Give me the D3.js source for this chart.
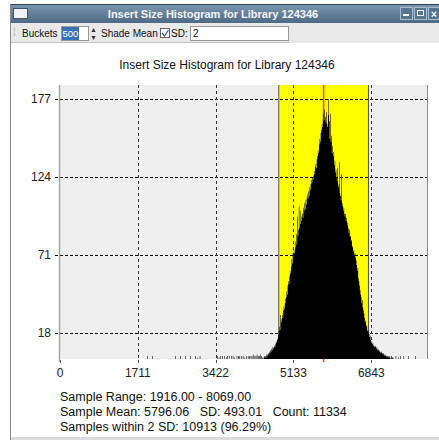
<!DOCTYPE html>
<html>
<head>
<meta charset="utf-8">
<script src="https://cdn.jsdelivr.net/npm/d3@7"></script>
<style>
  body { margin: 0; background: #fff; }
  svg { display: block; }
  text { font-family: "Liberation Sans", Arial, sans-serif; }
</style>
</head>
<body>
<div id="chart"></div>
<script>
const windowTitle = 'Insert Size Histogram for Library 124346';
const chartTitle = 'Insert Size Histogram for Library 124346';
const bucketCount = 500;
const sampleRange = [1916, 8069];
const sampleMean = 5796.06;
const sampleSD = 493.01;
const shadeSD = 2;
const xTicks = [0, 1711, 3422, 5133, 6843];
const yTicks = [18, 71, 124, 177];
const yMax = 186.6;

// sparse outlier buckets: [bucket index, count]
const tailBuckets = [
  [0, 2], [9, 2], [50, 2], [59, 2], [68, 2], [77, 2], [86, 2], [89, 1], [94, 2],
  [125, 2], [128, 1], [131, 2], [134, 2], [138, 2], [141, 1], [143, 2], [146, 2],
  [150, 2], [153, 2], [156, 1], [160, 2], [163, 2], [165, 2], [168, 2], [171, 2],
  [174, 1], [177, 2], [180, 2], [182, 2], [185, 2], [187, 2], [190, 3], [192, 2],
  [194, 2], [196, 3], [198, 2], [200, 2], [202, 3], [204, 2],
  [444, 2], [448, 1], [452, 2], [458, 2], [466, 2], [479, 2]
];

// dense part of the histogram, starting at bucket coreStart
const coreStart = 206;
const coreCounts = [
  1, 0, 1, 2, 1, 2, 1,
  3, 2, 3, 4, 3, 5, 4,
  6, 5, 7, 6, 8, 7, 8,
  9, 8, 10, 12, 11, 13, 14,
  16, 19, 22, 20, 30, 25, 27,
  30, 28, 33, 36, 34, 38, 41,
  42, 46, 44, 50, 53, 51, 56,
  60, 58, 63, 68, 65, 72, 70,
  74, 72, 80, 76, 85, 78, 97,
  84, 88, 104, 89, 92, 101, 94,
  97, 99, 96, 103, 101, 106, 102,
  108, 105, 110, 112, 109, 114, 111,
  117, 115, 119, 122, 120, 124, 122,
  125, 128, 126, 131, 133, 130, 136,
  138, 142, 140, 146, 150, 148, 154,
  156, 160, 158, 167, 162, 170, 163,
  165, 161, 168, 160, 158, 166, 177,
  162, 150, 167, 148, 152, 140, 145,
  138, 141, 132, 135, 127, 129, 124,
  121, 130, 117, 119, 134, 113, 111,
  108, 126, 104, 106, 101, 103, 99,
  97, 99, 94, 96, 91, 93, 89,
  86, 88, 83, 84, 80, 81, 77,
  76, 73, 74, 71, 72, 69, 67,
  64, 60, 62, 55, 53, 50, 47,
  44, 42, 38, 40, 35, 33, 31,
  28, 25, 26, 22, 23, 19, 20,
  18, 17, 15, 16, 13, 12, 11,
  10, 11, 9, 9, 8, 9, 8,
  7, 8, 6, 7, 6, 6, 5,
  5, 4, 5, 4, 4, 3, 4,
  3, 2, 3, 2, 2, 1, 2,
  2, 1, 2, 1, 0, 1, 2, 0, 1, 1, 0
];

const statLines = [
  'Sample Range: 1916.00 - 8069.00',
  'Sample Mean: 5796.06   SD: 493.01   Count: 11334',
  'Samples within 2 SD: 10913 (96.29%)'
];

const W = 439, H = 440;
const plot = { left: 60, right: 427, top: 85, bottom: 359 };

const svg = d3.select('#chart').append('svg')
  .attr('width', W)
  .attr('height', H);

// ---- window chrome ----
const defs = svg.append('defs');
const grad = defs.append('linearGradient')
  .attr('id', 'titlebar').attr('x1', 0).attr('y1', 0).attr('x2', 0).attr('y2', 1);
grad.append('stop').attr('offset', '0%').attr('stop-color', '#7d98b0');
grad.append('stop').attr('offset', '100%').attr('stop-color', '#4c6a85');

svg.append('rect').attr('x', 0).attr('y', 0).attr('width', W).attr('height', H).attr('fill', '#fff');
svg.append('rect').attr('x', 10).attr('y', 4).attr('width', W - 10).attr('height', 19)
  .attr('fill', 'url(#titlebar)');
svg.append('line').attr('x1', 10).attr('x2', W).attr('y1', 4.5).attr('y2', 4.5)
  .attr('stroke', '#2f3f4f');
svg.append('line').attr('x1', 10.5).attr('x2', 10.5).attr('y1', 4).attr('y2', H)
  .attr('stroke', '#8a8a8a');
// window icon
svg.append('rect').attr('x', 13.5).attr('y', 8.5).attr('width', 14).attr('height', 10)
  .attr('fill', '#f4f4f4').attr('stroke', '#40586e');
svg.append('text')
  .attr('x', 213).attr('y', 17.5)
  .attr('text-anchor', 'middle')
  .attr('font-size', 11).attr('font-weight', 'bold')
  .attr('fill', '#f4f6f8')
  .text(windowTitle);
// window buttons
[400, 414, 428].forEach((bx, i) => {
  svg.append('rect').attr('x', bx + 0.5).attr('y', 7.5).attr('width', 12).attr('height', 12)
    .attr('fill', '#58758f').attr('stroke', '#a9bccd');
  if (i === 0) {
    svg.append('rect').attr('x', bx + 3).attr('y', 14).attr('width', 6).attr('height', 2).attr('fill', '#fff');
  } else if (i === 1) {
    svg.append('rect').attr('x', bx + 3.5).attr('y', 10.5).attr('width', 6).attr('height', 5)
      .attr('fill', 'none').attr('stroke', '#fff');
  } else {
    svg.append('text').attr('x', bx + 3).attr('y', 17.5).attr('font-size', 10)
      .attr('font-weight', 'bold').attr('fill', '#fff').text('×');
  }
});

// toolbar
svg.append('rect').attr('x', 11).attr('y', 23).attr('width', W - 11).attr('height', 20)
  .attr('fill', '#e9e9e9');
svg.append('line').attr('x1', 11).attr('x2', 290).attr('y1', 42.5).attr('y2', 42.5)
  .attr('stroke', '#c4c4c4');
svg.append('text').attr('x', 13).attr('y', 36).attr('font-size', 10).attr('fill', '#aaa').text('⁞');
svg.append('text').attr('x', 22).attr('y', 37).attr('font-size', 10).attr('fill', '#111').text('Buckets');
svg.append('rect').attr('x', 61.5).attr('y', 26.5).attr('width', 27).attr('height', 14)
  .attr('fill', '#fff').attr('stroke', '#9a9a9a');
svg.append('rect').attr('x', 62).attr('y', 27).attr('width', 17).attr('height', 13).attr('fill', '#3a6fb8');
svg.append('text').attr('x', 62.5).attr('y', 37).attr('font-size', 9.5).attr('fill', '#fff').text('500');
svg.append('text').attr('x', 90).attr('y', 32).attr('font-size', 7).attr('fill', '#333').text('▲');
svg.append('text').attr('x', 90).attr('y', 40).attr('font-size', 7).attr('fill', '#333').text('▼');
svg.append('text').attr('x', 101).attr('y', 37).attr('font-size', 10).attr('fill', '#111').text('Shade Mean');
svg.append('rect').attr('x', 160.5).attr('y', 28.5).attr('width', 9).attr('height', 9)
  .attr('fill', '#fff').attr('stroke', '#666');
svg.append('path').attr('d', 'M162,33 L164.5,36 L168.5,30').attr('fill', 'none')
  .attr('stroke', '#2a5fa8').attr('stroke-width', 1.3);
svg.append('text').attr('x', 171).attr('y', 37).attr('font-size', 10).attr('fill', '#111').text('SD:');
svg.append('rect').attr('x', 190.5).attr('y', 26.5).attr('width', 98).attr('height', 14)
  .attr('fill', '#fff').attr('stroke', '#9a9a9a');
svg.append('text').attr('x', 193).attr('y', 37).attr('font-size', 10).attr('fill', '#111').text(String(shadeSD));

// bottom strip
svg.append('rect').attr('x', 11).attr('y', 437).attr('width', W - 11).attr('height', 3).attr('fill', '#dcdcdc');

// ---- chart ----
const x = d3.scaleLinear().domain([0, sampleRange[1]]).range([plot.left, plot.right]);
const y = d3.scaleLinear().domain([0, yMax]).range([plot.bottom, plot.top]);

svg.append('text')
  .attr('x', 227).attr('y', 69)
  .attr('text-anchor', 'middle')
  .attr('font-size', 12).attr('fill', '#111')
  .text(chartTitle);

svg.append('rect')
  .attr('x', plot.left).attr('y', plot.top)
  .attr('width', plot.right - plot.left).attr('height', plot.bottom - plot.top)
  .attr('fill', '#efefef');

const lo = sampleMean - shadeSD * sampleSD;
const hi = sampleMean + shadeSD * sampleSD;
svg.append('rect')
  .attr('x', x(lo)).attr('y', plot.top)
  .attr('width', x(hi) - x(lo)).attr('height', plot.bottom - plot.top)
  .attr('fill', '#ffff00');

// grid
svg.append('g').selectAll('line')
  .data(yTicks).join('line')
  .attr('x1', plot.left - 5).attr('x2', plot.right)
  .attr('y1', d => Math.round(y(d)) + 0.5).attr('y2', d => Math.round(y(d)) + 0.5)
  .attr('stroke', '#000').attr('stroke-dasharray', '3,2');
svg.append('g').selectAll('line')
  .data(xTicks.slice(1)).join('line')
  .attr('x1', d => Math.round(x(d)) + 0.5).attr('x2', d => Math.round(x(d)) + 0.5)
  .attr('y1', plot.top).attr('y2', plot.bottom)
  .attr('stroke', '#333').attr('stroke-dasharray', '3,3');

// shade edges and mean line
svg.append('g').selectAll('line')
  .data([lo, hi]).join('line')
  .attr('x1', d => x(d)).attr('x2', d => x(d))
  .attr('y1', plot.top).attr('y2', plot.bottom)
  .attr('stroke', '#555').attr('stroke-width', 1);
svg.append('line')
  .attr('x1', x(sampleMean)).attr('x2', x(sampleMean))
  .attr('y1', plot.top).attr('y2', plot.bottom + 3)
  .attr('stroke', '#f0501e').attr('stroke-width', 1.6);

// bars: one path so that adjacent sub-pixel buckets fill solid
const bucketWidth = (sampleRange[1] - sampleRange[0]) / bucketCount;
const bins = tailBuckets.map(([b, c]) => ({ b, c }))
  .concat(coreCounts.map((c, i) => ({ b: coreStart + i, c })))
  .filter(d => d.c > 0);
const bw = x(bucketWidth) - x(0);
const barPath = d3.path();
bins.forEach(d => {
  barPath.rect(x(sampleRange[0] + d.b * bucketWidth), y(d.c), bw, y(0) - y(d.c));
});
svg.append('path')
  .attr('d', barPath.toString())
  .attr('fill', '#000');

// plot borders
svg.append('line').attr('x1', plot.left - 0.5).attr('x2', plot.left - 0.5)
  .attr('y1', plot.top).attr('y2', plot.bottom + 3).attr('stroke', '#a6a6a6').attr('stroke-width', 1.5);
svg.append('line').attr('x1', plot.right + 0.5).attr('x2', plot.right + 0.5)
  .attr('y1', plot.top).attr('y2', plot.bottom).attr('stroke', '#8c8c8c');

// axes labels
svg.append('g').selectAll('text')
  .data(yTicks).join('text')
  .attr('x', 51).attr('y', d => y(d) + 4)
  .attr('text-anchor', 'end')
  .attr('font-size', 12).attr('fill', '#222')
  .text(d => d);
const xt = svg.append('g');
xt.selectAll('line')
  .data(xTicks).join('line')
  .attr('x1', d => Math.round(x(d)) + 0.5).attr('x2', d => Math.round(x(d)) + 0.5)
  .attr('y1', plot.bottom + 1).attr('y2', plot.bottom + 4)
  .attr('stroke', '#555');
xt.selectAll('text')
  .data(xTicks).join('text')
  .attr('x', d => x(d)).attr('y', 377)
  .attr('text-anchor', 'middle')
  .attr('font-size', 12).attr('fill', '#222')
  .text(d => d);

// stats
svg.append('g').selectAll('text')
  .data(statLines).join('text')
  .attr('x', 60).attr('y', (d, i) => 401 + i * 15)
  .attr('font-size', 12.5).attr('fill', '#111')
  .style('white-space', 'pre')
  .text(d => d);
</script>
</body>
</html>
